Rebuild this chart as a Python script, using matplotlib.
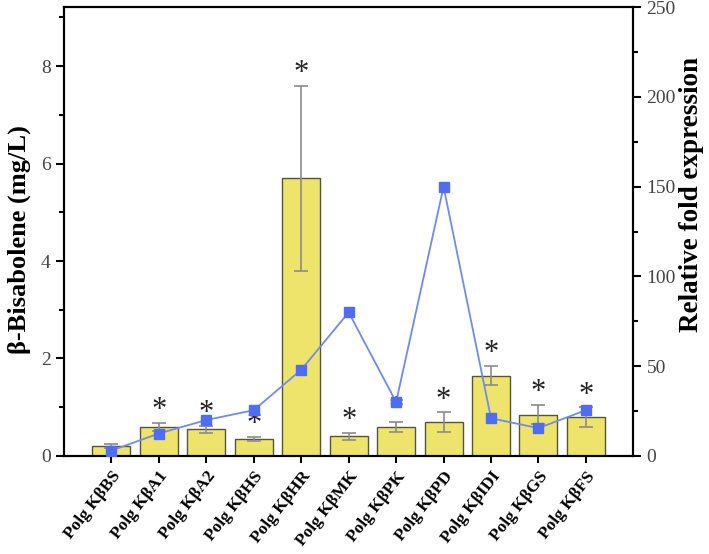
import numpy as np
import matplotlib
matplotlib.use("Agg")
import matplotlib.pyplot as plt
import matplotlib.transforms as mtransforms
from matplotlib.ticker import MultipleLocator

plt.rcParams["font.family"] = ["Liberation Serif", "DejaVu Serif"]

# datos
genes = ["Polg KβBS", "Polg KβA1", "Polg KβA2", "Polg KβHS", "Polg KβHR",
         "Polg KβMK", "Polg KβPK", "Polg KβPD", "Polg KβIDI", "Polg KβGS", "Polg KβFS"]
bisaboleno = [0.2, 0.6, 0.55, 0.35, 5.7, 0.4, 0.6, 0.7, 1.65, 0.85, 0.8]
error = [0.04, 0.08, 0.07, 0.04, 1.9, 0.08, 0.1, 0.2, 0.2, 0.2, 0.2]
expresion = [3, 12.5, 20, 25.5, 48, 80, 30, 150, 21, 15.5, 25.5]
significativo = [False, True, True, True, True, True, True, True, True, True, True]

x = np.arange(len(genes))

fig = plt.figure(figsize=(7.09, 5.54), dpi=100)
ax = fig.add_axes([0.0903, 0.177, 0.803, 0.810])

ax.bar(x, bisaboleno, width=0.8, color="#EEE36B", edgecolor="#55553a", linewidth=1.0, zorder=2)
ax.errorbar(x, bisaboleno, yerr=error, fmt="none", ecolor="#8c8c8c", elinewidth=1.2,
            capsize=5, capthick=1.2, zorder=3)
# asteriscos de significancia
for i in range(len(genes)):
    if significativo[i]:
        ax.text(x[i], bisaboleno[i] + error[i] - 0.05, "*", ha="center", va="bottom",
                fontsize=22, color="#222222", zorder=5)

ax.set_xlim(-1, 11)
ax.set_ylim(0, 9.21)
ax.yaxis.set_major_locator(MultipleLocator(2))
ax.yaxis.set_minor_locator(MultipleLocator(1))
ax.set_xticks(x)
ax.set_xticklabels(genes, rotation=52, ha="right", rotation_mode="anchor",
                   fontweight="bold", fontsize=12.5)
desplazamiento = mtransforms.ScaledTranslation(6 / 100, 0, fig.dpi_scale_trans)
for lab in ax.get_xticklabels():
    lab.set_transform(lab.get_transform() + desplazamiento)
ax.tick_params(axis="x", direction="out", length=5, width=1.5, pad=4)
ax.tick_params(axis="y", which="major", direction="out", length=6, width=1.5, labelsize=14, colors="#000000")
ax.tick_params(axis="y", which="minor", direction="out", length=3.5, width=1.5)
for lab in ax.get_yticklabels():
    lab.set_color("#444444")
ax.set_ylabel("β-Bisabolene (mg/L)", fontsize=19, fontweight="bold")
ax.yaxis.set_label_coords(-0.058, 0.483)
for s in ax.spines.values():
    s.set_linewidth(1.5)

ax2 = ax.twinx()
ax2.plot(x, expresion, color="#6F8BF0", linewidth=1.3, marker="s", markersize=7,
         markerfacecolor="#4F6CF5", markeredgecolor="#4F6CF5", zorder=4)
ax2.set_ylim(0, 250)
ax2.yaxis.set_major_locator(MultipleLocator(50))
ax2.yaxis.set_minor_locator(MultipleLocator(25))
ax2.tick_params(axis="y", which="major", direction="out", length=6, width=1.5, labelsize=14)
ax2.tick_params(axis="y", which="minor", direction="out", length=3.5, width=1.5)
for lab in ax2.get_yticklabels():
    lab.set_color("#444444")
ax2.set_ylabel("Relative fold expression", fontsize=19.5, fontweight="bold")
ax2.yaxis.set_label_coords(1.08, 0.583)
for s in ax2.spines.values():
    s.set_linewidth(1.5)

fig.savefig("out.png", dpi=100)
